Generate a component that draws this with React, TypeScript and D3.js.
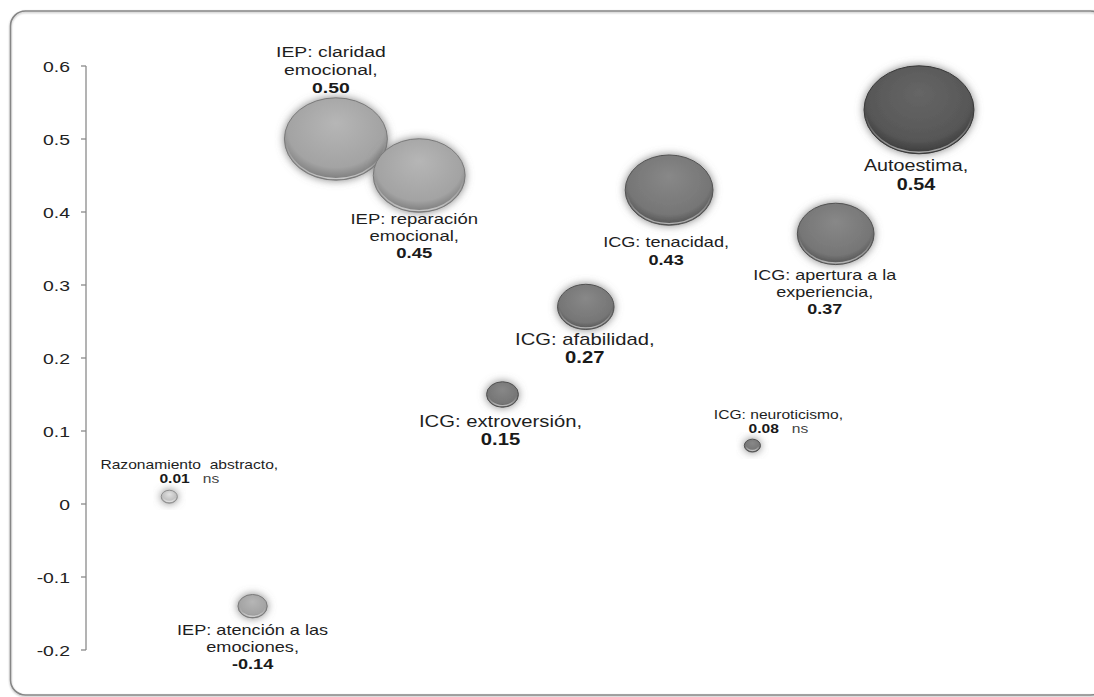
import React from "react";
import * as d3 from "d3";

// ---- data ----
const categories = [
  "Razonamiento abstracto",
  "IEP: atención a las emociones",
  "IEP: claridad emocional",
  "IEP: reparación emocional",
  "ICG: extroversión",
  "ICG: afabilidad",
  "ICG: tenacidad",
  "ICG: neuroticismo",
  "ICG: apertura a la experiencia",
  "Autoestima",
];
const xValues = [1, 2, 3, 4, 5, 6, 7, 8, 9, 10];
const correlations = [0.01, -0.14, 0.5, 0.45, 0.15, 0.27, 0.43, 0.08, 0.37, 0.54];
const bubbleSizes = [0.08, 0.145, 0.51, 0.455, 0.158, 0.28, 0.435, 0.08, 0.38, 0.545];
const valueLabels = ["0.01", "-0.14", "0.50", "0.45", "0.15", "0.27", "0.43", "0.08", "0.37", "0.54"];
const significant = [false, true, true, true, true, true, true, false, true, true];
const labelLines = [
  ["Razonamiento\u00a0 abstracto,"],
  ["IEP: atención a las", "emociones,"],
  ["IEP: claridad", "emocional,"],
  ["IEP: reparación", "emocional,"],
  ["ICG: extroversión,"],
  ["ICG: afabilidad,"],
  ["ICG: tenacidad,"],
  ["ICG: neuroticismo,"],
  ["ICG: apertura a la", "experiencia,"],
  ["Autoestima,"],
];
const groups = ["other", "IEP", "IEP", "IEP", "ICG", "ICG", "ICG", "ICG", "ICG", "self"];
const yTicks = [-0.2, -0.1, 0, 0.1, 0.2, 0.3, 0.4, 0.5, 0.6];

// ---- layout / style ----
const W = 1094;
const H = 697;
const SX = 1.25; // horizontal stretch of the original picture
const FONT = "'Liberation Sans', Arial, sans-serif";

// label placement relative to bubble centre: [dx, dy of first baseline, line gap, font size]
const labelLayout: [number, number, number, number][] = [
  [20, -28, 14, 12.5],
  [0, 29, 17, 14.5],
  [-5, -82, 18, 15.5],
  [-5, 48.5, 17, 14.8],
  [-2, 32.5, 18, 16.2],
  [-1, 38, 18, 16.2],
  [-3, 57, 18, 14.5],
  [26, -27, 14, 12.5],
  [-11, 46, 17, 14.4],
  [-3, 61, 19, 15.8],
];

const palette: Record<string, [string, string, string]> = {
  other: ["#e2e2e2", "#bdbdbd", "#8f8f8f"],
  IEP: ["#b6b6b6", "#a3a3a3", "#7a7a7a"],
  ICG: ["#888888", "#767676", "#525252"],
  self: ["#666666", "#575757", "#3a3a3a"],
};

export default function App() {
  const x = d3.scaleLinear().domain([0, 11]).range([86, 86 + 11 * 83.3]);
  const y = d3.scaleLinear().domain([-0.2, 0.6]).range([650, 66]);
  const r = d3.scaleLinear().domain([0, 0.54]).range([0, 54.5]);
  const aspect = 0.8;

  const stretchText = (
    key: string,
    tx: number,
    ty: number,
    content: React.ReactNode,
    size: number,
    weight: string | number = "normal",
    anchor: "middle" | "end" | "start" = "middle",
    fill = "#1a1a1a"
  ) => (
    <text
      key={key}
      transform={`translate(${tx},${ty}) scale(${SX},1)`}
      textAnchor={anchor}
      fontFamily={FONT}
      fontSize={size}
      fontWeight={weight}
      fill={fill}
    >
      {content}
    </text>
  );

  return (
    <svg
      width={W}
      height={H}
      style={{ position: "absolute", left: 0, top: 0, background: "#fff" }}
    >
      <defs>
        {Object.entries(palette).map(([k, c]) => (
          <radialGradient key={k} id={`grad-${k}`} cx="50%" cy="40%" r="60%" fx="50%" fy="30%">
            <stop offset="0%" stopColor={c[0]} />
            <stop offset="78%" stopColor={c[1]} />
            <stop offset="100%" stopColor={c[2]} />
          </radialGradient>
        ))}
        <linearGradient id="rim" x1="0" y1="0" x2="0" y2="1">
          <stop offset="0%" stopColor="#ffffff" stopOpacity="0" />
          <stop offset="55%" stopColor="#ffffff" stopOpacity="0" />
          <stop offset="100%" stopColor="#ffffff" stopOpacity="0.55" />
        </linearGradient>
        <filter id="glow" x="-50%" y="-50%" width="200%" height="200%">
          <feGaussianBlur in="SourceAlpha" stdDeviation="4.5" result="b" />
          <feFlood floodColor="#6e6e6e" floodOpacity="0.85" />
          <feComposite in2="b" operator="in" result="s" />
          <feMerge>
            <feMergeNode in="s" />
            <feMergeNode in="SourceGraphic" />
          </feMerge>
        </filter>
        <filter id="frameShadow" x="-5%" y="-5%" width="110%" height="110%">
          <feGaussianBlur in="SourceAlpha" stdDeviation="1" result="b" />
          <feOffset dx="0" dy="1" />
          <feComponentTransfer>
            <feFuncA type="linear" slope="0.3" />
          </feComponentTransfer>
          <feMerge>
            <feMergeNode />
            <feMergeNode in="SourceGraphic" />
          </feMerge>
        </filter>
      </defs>

      {/* frame */}
      <rect
        x={10.5}
        y={11}
        width={1095}
        height={684}
        rx={15}
        fill="none"
        stroke="#868686"
        strokeWidth={1.6}
        filter="url(#frameShadow)"
      />

      {/* y axis */}
      <line x1={86} x2={86} y1={y(0.6)} y2={y(-0.2)} stroke="#8a8a8a" strokeWidth={1.3} />
      {yTicks.map((t) => (
        <g key={t}>
          <line x1={81} x2={86} y1={y(t)} y2={y(t)} stroke="#8a8a8a" strokeWidth={1.3} />
          {stretchText(`yt${t}`, 70, y(t) + 5.5, String(+t.toFixed(1)), 15.5, "normal", "end", "#222")}
        </g>
      ))}

      {/* bubbles */}
      {categories.map((c, i) => {
        const rx = r(bubbleSizes[i]);
        const ry = rx * aspect;
        const cx = x(xValues[i]);
        const cy = y(correlations[i]);
        const col = palette[groups[i]];
        return (
          <g key={c}>
            <ellipse
              cx={cx}
              cy={cy}
              rx={rx}
              ry={ry}
              fill={`url(#grad-${groups[i]})`}
              stroke={col[2]}
              strokeWidth={1}
              filter="url(#glow)"
            />
            <ellipse
              cx={cx}
              cy={cy}
              rx={Math.max(rx - 1.6, 1)}
              ry={Math.max(ry - 1.6, 1)}
              fill="none"
              stroke="url(#rim)"
              strokeWidth={1.4}
            />
          </g>
        );
      })}

      {/* labels */}
      {categories.map((c, i) => {
        const [dx, dy, gap, fs] = labelLayout[i];
        const cx = x(xValues[i]) + dx;
        const cy = y(correlations[i]) + dy;
        const lines = labelLines[i];
        const valueY = cy + gap * lines.length;
        return (
          <g key={`lab-${c}`}>
            {lines.map((ln, j) => stretchText(`l${i}-${j}`, cx, cy + gap * j, ln, fs, "normal", "middle", "#1e1e1e"))}
            {significant[i]
              ? stretchText(`v${i}`, cx, valueY, valueLabels[i], fs, "bold")
              : stretchText(
                  `v${i}`,
                  cx,
                  valueY,
                  [
                    <tspan key="a" fontWeight="bold" fill="#1a1a1a">{valueLabels[i]}</tspan>,
                    <tspan key="b" fill="#444">{"\u00a0\u00a0\u00a0ns"}</tspan>,
                  ],
                  fs
                )}
          </g>
        );
      })}
    </svg>
  );
}
